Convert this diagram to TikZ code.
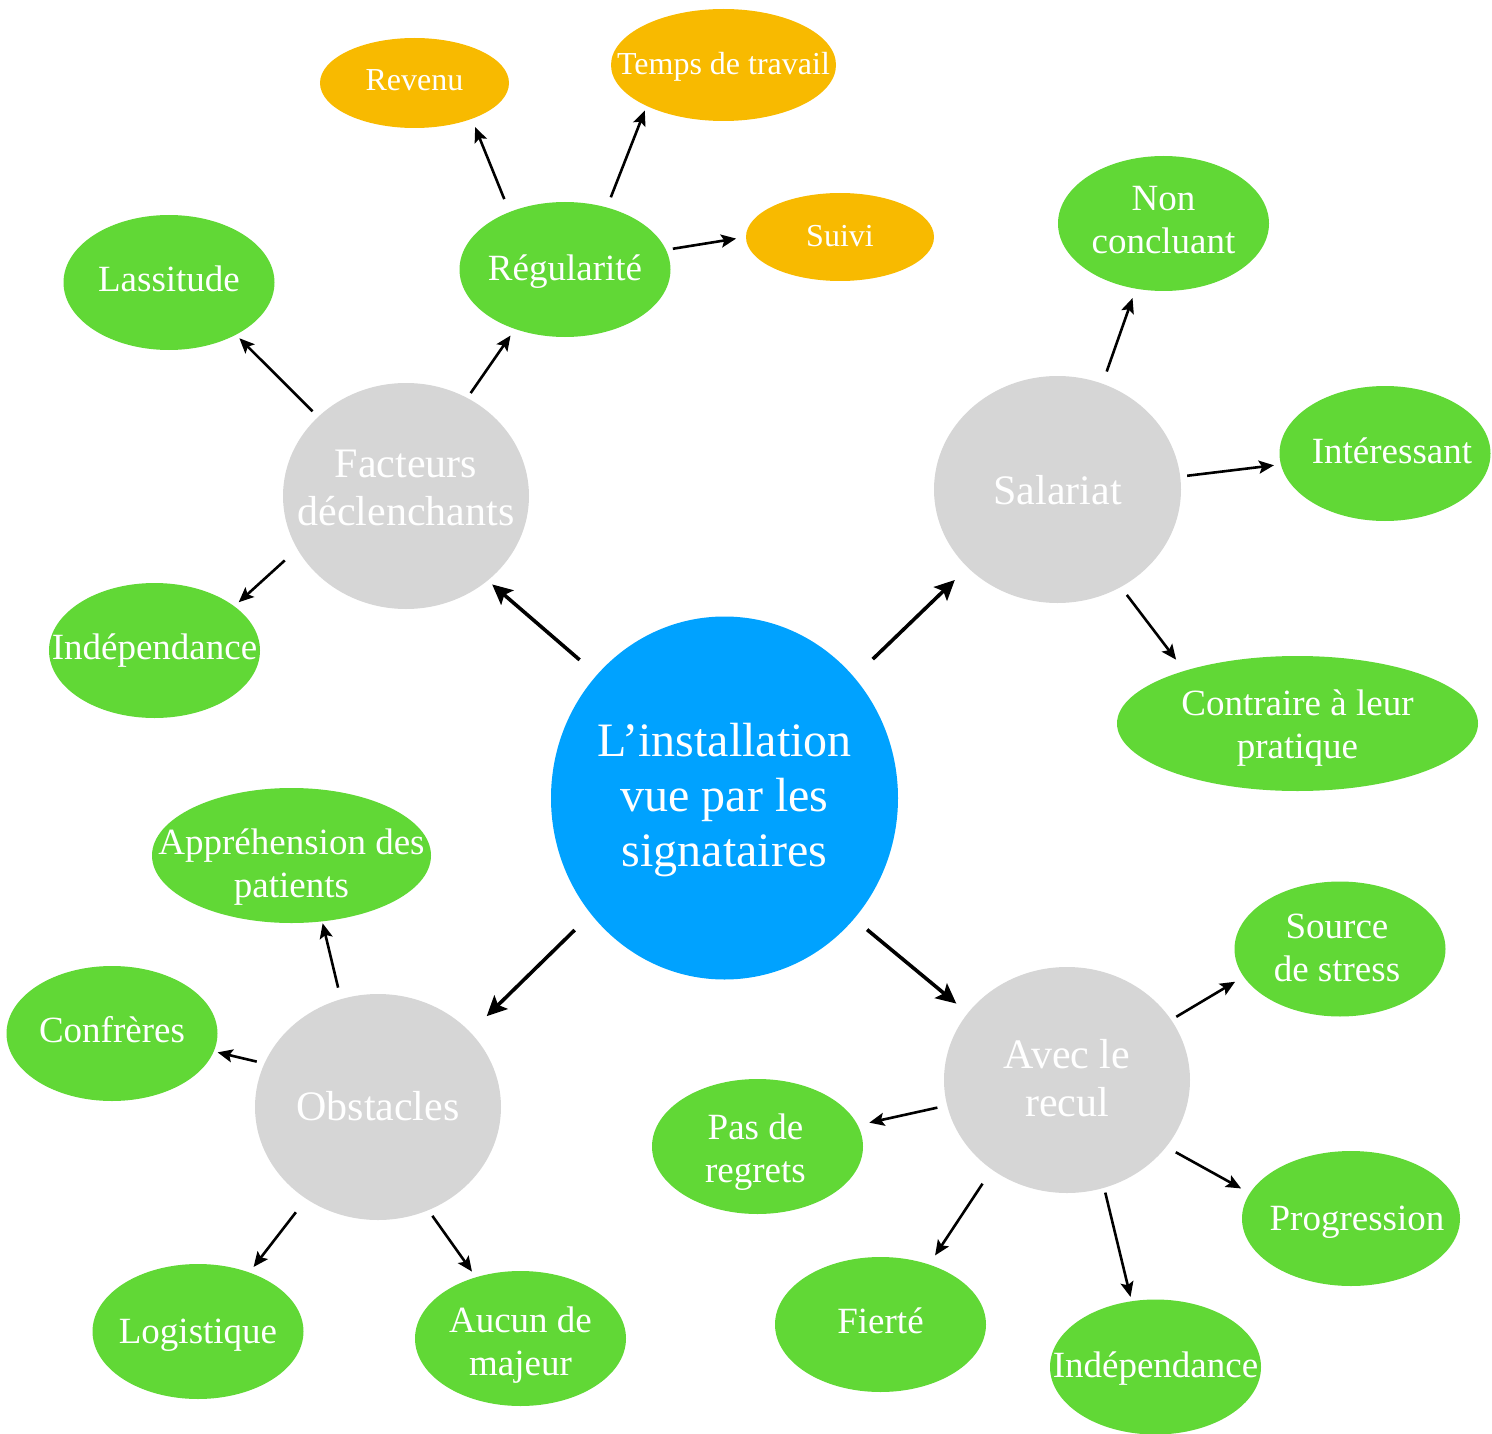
\documentclass[tikz,border=0pt]{standalone}
\usepackage{fontspec}
\setmainfont{Liberation Serif}
\usetikzlibrary{shapes.geometric,arrows.meta}
\definecolor{kblue}{HTML}{00A2FF}
\definecolor{kgreen}{HTML}{61D836}
\definecolor{kgray}{HTML}{D6D6D6}
\definecolor{korange}{HTML}{F8BA00}
\newcommand{\zboxs}[3]{\makebox[0pt]{\strut\kern#1\raisebox{#2}[0pt][0pt]{#3}\kern-#1}}
\newcommand{\zbox}[1]{\zboxs{0pt}{0pt}{#1}}
\tikzset{
  bub/.style={ellipse, inner sep=0pt, outer sep=0pt, text=white, align=center, draw=none},
  grn/.style={bub, fill=kgreen, minimum width=211pt, minimum height=135pt, font=\fontsize{37}{43}\selectfont},
  gry/.style={bub, fill=kgray, minimum width=246pt, minimum height=226pt, font=\fontsize{42}{48}\selectfont},
  orng/.style={bub, fill=korange, font=\fontsize{32}{38}\selectfont},
  ctr/.style={bub, fill=kblue, minimum width=347pt, minimum height=363pt, font=\fontsize{48}{55}\selectfont},
  thk/.style={line width=3.6pt, -{Stealth[length=20pt,width=19pt,inset=4pt]}},
  thn/.style={line width=2.6pt, -{Stealth[length=15pt,width=13pt,inset=3pt]}},
}
\begin{document}
\begin{tikzpicture}[x=1pt,y=-1pt]
\useasboundingbox (0,0) rectangle (1492,1434);
% center
\node[ctr] (c) at (724.5,798) {\zboxs{0pt}{-2pt}{L’installation}\\\zboxs{0pt}{-2pt}{vue par les}\\\zboxs{0pt}{-2pt}{signataires}};
% gray
\node[gry] (fac) at (406,496) {\zboxs{0pt}{4pt}{Facteurs}\\\zboxs{0pt}{4pt}{déclenchants}};
\node[gry, minimum width=247pt, minimum height=227pt] (sal) at (1057.5,489.5) {\zboxs{0pt}{-5pt}{Salariat}};
\node[gry] (obs) at (378,1107) {\zboxs{0pt}{-4pt}{Obstacles}};
\node[gry] (rec) at (1067,1080) {\zboxs{0pt}{-3pt}{Avec le}\\\zboxs{0pt}{-3pt}{recul}};
% green
\node[grn] (las) at (169,282.5) {\zbox{Lassitude}};
\node[grn] (reg) at (565,269.5) {\zboxs{0pt}{-2pt}{Régularité}};
\node[grn] (ind1) at (154.5,650.5) {\zbox{Indépendance}};
\node[grn] (non) at (1163.5,223.5) {\zbox{Non}\\\zbox{concluant}};
\node[grn] (int) at (1385,453.5) {\zboxs{7pt}{-1pt}{Intéressant}};
\node[grn, minimum width=361pt] (contr) at (1297.5,723.5) {\zboxs{0pt}{-5pt}{Contraire à leur}\\\zboxs{0pt}{-5pt}{pratique}};
\node[grn, minimum width=279pt] (appr) at (291.5,855.5) {\zboxs{0pt}{-12pt}{Appréhension des}\\\zboxs{0pt}{-12pt}{patients}};
\node[grn] (conf) at (112,1033.5) {\zbox{Confrères}};
\node[grn] (log) at (198,1331.5) {\zboxs{0pt}{-3pt}{Logistique}};
\node[grn] (auc) at (520.5,1338.5) {\zboxs{0pt}{-7pt}{Aucun de}\\\zboxs{0pt}{-7pt}{majeur}};
\node[grn] (src) at (1340,949) {\zboxs{-3pt}{-2pt}{Source}\\\zboxs{-3pt}{-2pt}{de stress}};
\node[grn] (pas) at (757.5,1146.5) {\zboxs{-2pt}{-6pt}{Pas de}\\\zboxs{-2pt}{-6pt}{regrets}};
\node[grn, minimum width=218pt] (prog) at (1351,1218.5) {\zboxs{6pt}{-3pt}{Progression}};
\node[grn] (fier) at (880.5,1324.5) {\zbox{Fierté}};
\node[grn] (ind2) at (1155.5,1367) {\zboxs{0pt}{-2pt}{Indépendance}};
% orange
\node[orng, minimum width=189pt, minimum height=90pt] (rev) at (414.5,83) {\zbox{Revenu}};
\node[orng, minimum width=225pt, minimum height=112pt] (tdt) at (723.5,65) {\zboxs{0pt}{-2pt}{Temps de travail}};
\node[orng, minimum width=188pt, minimum height=88pt] (suivi) at (840,237) {\zboxs{0pt}{-2pt}{Suivi}};
% thick arrows
\draw[thk, shorten <=23pt, shorten >=6pt] (c.136.1) -- (fac.314.7);
\draw[thk, shorten <=26pt, shorten >=18pt] (c.43.3) -- (sal.221.7);
\draw[thk, shorten <=23pt, shorten >=23pt] (c.221.3) -- (obs.39.5);
\draw[thk, shorten <=17pt, shorten >=15pt] (c.317.6) -- (rec.146.2);
% thin arrows
\draw[thn, shorten <=8pt, shorten >=5pt] (fac.138.2) -- (las.322);
\draw[thn, shorten <=6pt, shorten >=8pt] (fac.58.1) -- (reg.230);
\draw[thn, shorten <=17pt, shorten >=6pt] (fac.206.8) -- (ind1.29.3);
\draw[thn, shorten <=14pt, shorten >=9pt] (reg.134.3) -- (rev.328.7);
\draw[thn, shorten <=11pt, shorten >=5pt] (reg.56.1) -- (tdt.208.7);
\draw[thn, shorten <=7pt, shorten >=10pt] (reg.11.3) -- (suivi.180.6);
\draw[thn, shorten <=13pt, shorten >=10pt] (sal.67.6) -- (non.247.1);
\draw[thn, shorten <=7pt, shorten >=7pt] (sal.6.4) -- (int.186.4);
\draw[thn, shorten <=10pt, shorten >=14pt] (sal.303.4) -- (contr.155.4);
\draw[thn, shorten <=12pt, shorten >=2pt] (obs.109.4) -- (appr.295);
\draw[thn, shorten <=8pt, shorten >=4pt] (obs.159.8) -- (conf.350.6);
\draw[thn, shorten <=17pt, shorten >=7pt] (obs.232.6) -- (log.49);
\draw[thn, shorten <=7pt, shorten >=7pt] (obs.296.8) -- (auc.126.7);
\draw[thn, shorten <=6pt, shorten >=10pt] (rec.30) -- (src.196.3);
\draw[thn, shorten <=10pt, shorten >=12pt] (rec.192.2) -- (pas.12.4);
\draw[thn, shorten <=11pt, shorten >=10pt] (rec.326) -- (prog.166.1);
\draw[thn, shorten <=17pt, shorten >=11pt] (rec.230.1) -- (fier.51.5);
\draw[thn, shorten <=5pt, shorten >=4.5pt] (rec.289.2) -- (ind2.110);
\end{tikzpicture}
\end{document}
